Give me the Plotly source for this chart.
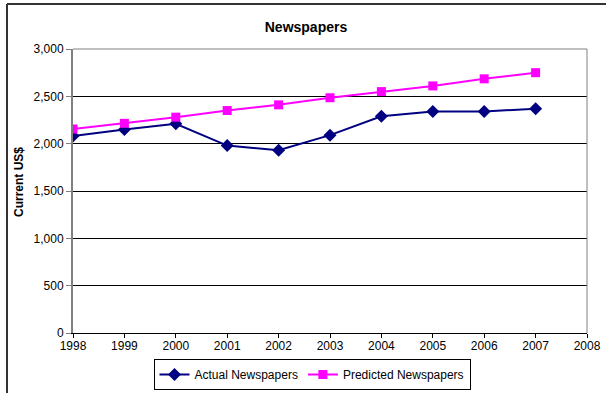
import plotly.graph_objects as go

# Annual newspaper spending, current US$
years = [1998, 1999, 2000, 2001, 2002, 2003, 2004, 2005, 2006, 2007]
actual = [2080, 2150, 2210, 1980, 1930, 2090, 2290, 2340, 2340, 2370]
predicted = [2155, 2215, 2280, 2350, 2410, 2485, 2550, 2610, 2685, 2750]

W, H = 606, 393
L, R, T, B = 73, 19, 49, 60
pw, ph = W - L - R, H - T - B

def px_x(x):
    return (x - L) / pw

def px_y(y):
    return (H - B - y) / ph

font = "Liberation Sans, Arial, sans-serif"

fig = go.Figure()
fig.add_trace(go.Scatter(
    x=years, y=actual, name="Actual Newspapers", mode="lines+markers",
    line=dict(color="#000080", width=2),
    marker=dict(symbol="diamond", size=10, color="#000080"),
))
fig.add_trace(go.Scatter(
    x=years, y=predicted, name="Predicted Newspapers", mode="lines+markers",
    line=dict(color="#FF00FF", width=2),
    marker=dict(symbol="square", size=9, color="#FF00FF"),
))

shapes = [
    # plot frame: top and right edges
    dict(type="line", xref="paper", yref="paper", x0=0, x1=1, y0=1, y1=1,
         line=dict(color="#808080", width=1), layer="above"),
    dict(type="line", xref="paper", yref="paper", x0=1, x1=1, y0=0, y1=1,
         line=dict(color="#808080", width=1), layer="above"),
    # chart border (top and left)
    dict(type="line", xref="paper", yref="paper", x0=px_x(7), x1=px_x(620),
         y0=px_y(4), y1=px_y(4), line=dict(color="#333333", width=2)),
    dict(type="line", xref="paper", yref="paper", x0=px_x(7), x1=px_x(7),
         y0=px_y(4), y1=px_y(400), line=dict(color="#333333", width=2)),
]

fig.update_layout(
    width=W, height=H,
    margin=dict(l=L, r=R, t=T, b=B, autoexpand=False),
    paper_bgcolor="white", plot_bgcolor="white",
    font=dict(family=font, size=12, color="#000000"),
    title=dict(text="<b>Newspapers</b>", font=dict(size=14, family=font),
               xref="paper", x=px_x(306), xanchor="center",
               yref="container", y=1 - 27 / H, yanchor="middle"),
    xaxis=dict(range=[1998, 2008], dtick=1, tick0=1998, showgrid=False,
               showline=True, linecolor="#000000", linewidth=1,
               ticks="outside", ticklen=4, tickcolor="#000000",
               ticklabelstandoff=-2,
               tickfont=dict(size=12), zeroline=False),
    yaxis=dict(range=[0, 3000], dtick=500, tickformat=",", showgrid=True,
               gridcolor="#000000", gridwidth=1,
               showline=True, linecolor="#808080", linewidth=2,
               ticks="outside", ticklen=5, tickcolor="#808080",
               tickfont=dict(size=12), zeroline=False),
    legend=dict(orientation="h", xref="container", yref="container",
                x=312 / W, xanchor="center",
                y=1 - 390 / H, yanchor="bottom", bordercolor="#000000",
                borderwidth=1, bgcolor="white", font=dict(size=12),
                itemwidth=30, tracegroupgap=0),
    shapes=shapes,
    annotations=[dict(text="<b>Current US$</b>", textangle=-90,
                      xref="paper", yref="paper", x=px_x(19), y=px_y(182),
                      xanchor="center", yanchor="middle", showarrow=False,
                      font=dict(size=12, family=font))],
    showlegend=True,
)

fig.write_html("out.html")
